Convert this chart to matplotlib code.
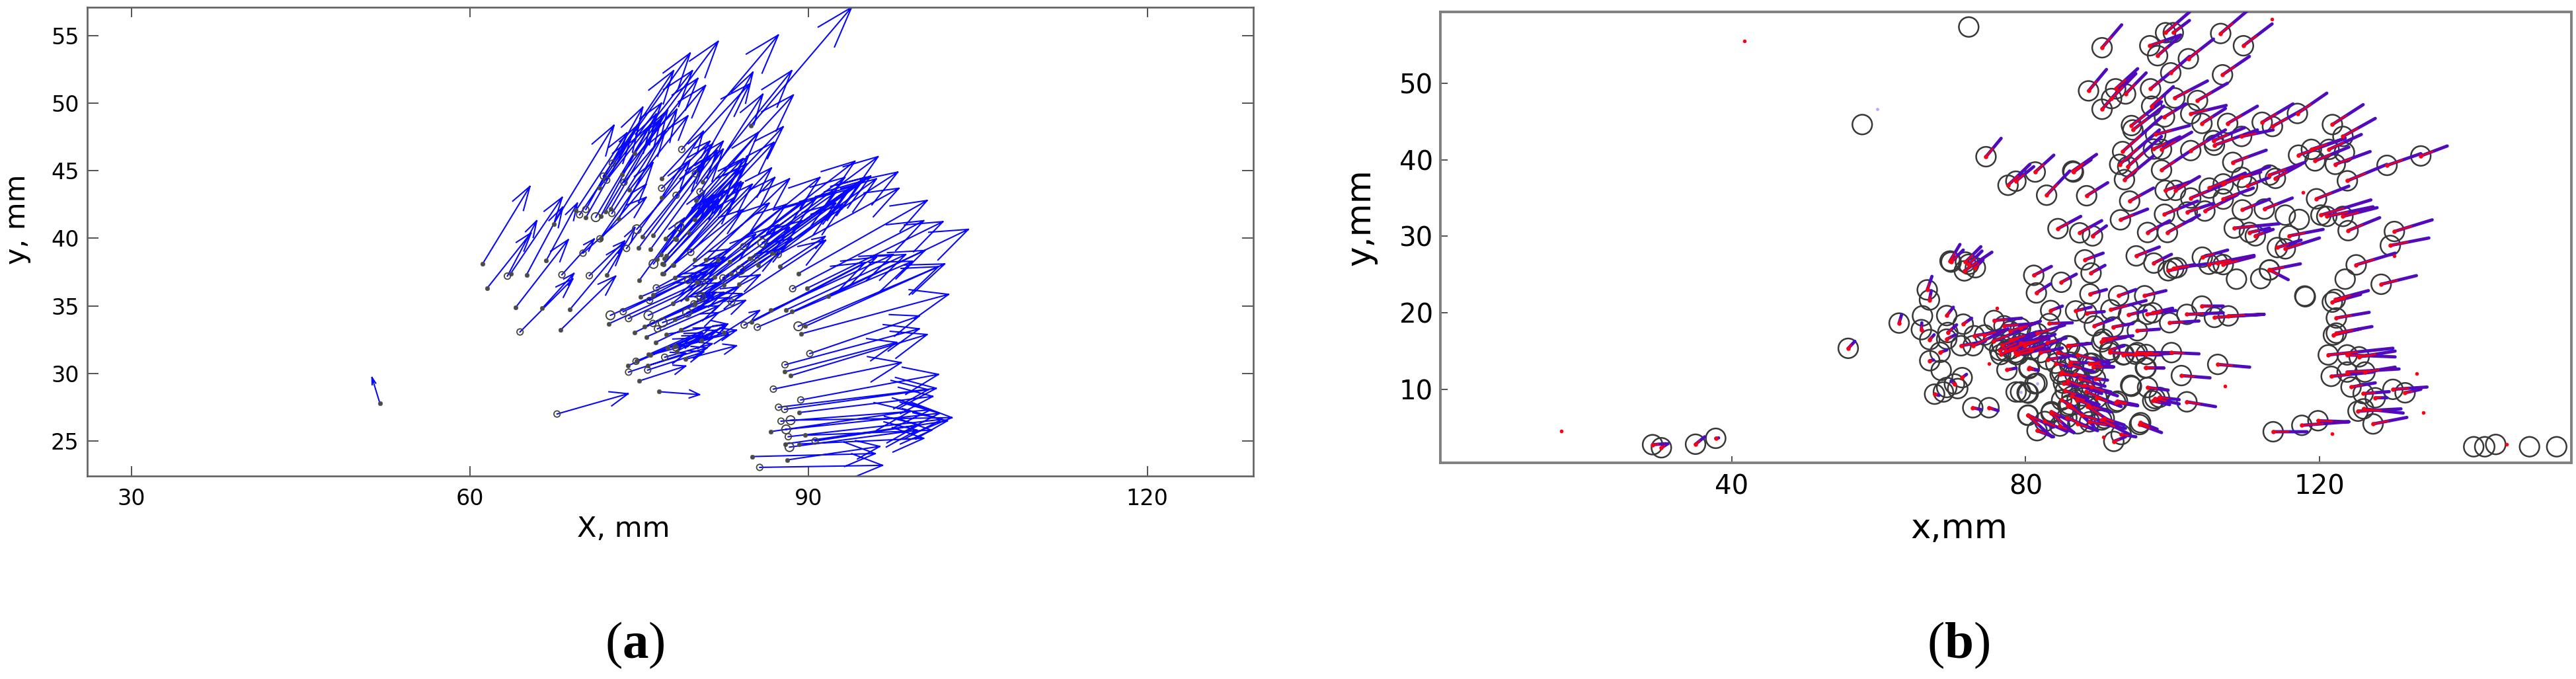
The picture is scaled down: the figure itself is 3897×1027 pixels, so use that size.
import numpy as np
import matplotlib
matplotlib.use("Agg")
import matplotlib.pyplot as plt

# ---------- panel (a): displacement arrows (x0, y0, x1, y1, marker class 0/1/2), mm
arrows_isolated = [
 (52.0,27.8,51.3,29.7,0),(67.7,27.0,74.0,28.5,1),(76.74,28.65,80.33,28.43,0),
 (61.1,38.1,65.3,43.84,0),(61.5,36.3,65.4,40.4,0),(63.3,37.2,65.9,41.3,1),(63.6,37.4,68.16,43.03,0),
 (65.0,37.3,68.2,42.3,0),(66.74,38.35,69.5,42.6,0),(64.05,34.9,68.7,39.9,0),(66.4,34.83,69.2,37.4,0),
 (64.42,33.07,69.1,37.0,1),(68.13,37.3,71.0,39.95,1),(70.56,37.23,73.7,39.8,1),(72.13,37.3,74.6,40.8,0),
 (68.84,34.73,73.7,39.6,0),(68.0,33.2,72.9,37.2,0),(70.0,38.9,75.6,43.03,1),(71.57,39.95,75.6,44.0,0),
 (71.5,39.96,76.2,45.6,1),
]
arrows_upper = [
 (67.4,41.07,72.75,48.36,0),(69.37,42.05,73.9,47.8,0),(69.7,41.74,74.2,47.3,1),(70.25,42.13,75.3,49.7,1),
 (70.25,41.53,75.0,48.5,0),(71.13,41.56,76.0,48.4,2),(71.58,41.64,76.5,49.2,0),(71.97,41.97,76.96,48.9,0),
 (72.46,42.18,77.5,49.5,0),(72.56,41.84,77.3,48.0,1),(73.15,41.43,78.32,49.55,0),(71.45,43.73,76.96,50.0,0),
 (71.8,44.6,78.03,52.4,1),(72.1,44.3,79.7,52.4,1),(72.6,45.55,79.5,53.7,1),(73.44,44.7,80.18,51.83,0),
 (73.63,44.14,80.86,51.3,1),(74.12,43.57,79.3,49.06,0),(74.57,46.29,81.98,54.57,0),(76.96,44.4,84.77,51.42,0),
 (76.97,43.7,81.25,47.18,1),(78.25,43.18,82.43,47.18,1),(78.75,46.57,87.31,55.04,1),(79.96,44.77,85.06,52.29,1),
 (80.37,43.44,85.94,50.66,1),(79.93,41.4,87.74,48.25,0),(78.54,40.88,85.55,47.84,2),(79.38,40.42,86.92,47.1,0),
 (77.35,39.96,84.2,45.9,0),(78.25,39.93,84.6,46.0,0),(84.87,48.33,93.8,57.08,0),(80.6,44.2,88.5,52.4,0),
 (80.0,42.8,88.64,50.6,0),(76.96,43.0,80.67,47.92,0),(74.77,40.67,81.5,47.0,2),(75.28,40.14,81.0,46.0,0),
 (76.2,40.2,81.9,46.5,0),(73.86,39.25,79.5,45.8,1),(74.94,39.3,80.5,45.5,0),(76.0,39.2,82.43,46.6,0),
 (76.25,38.1,80.8,43.5,2),(75.0,36.9,79.0,41.5,0),(76.56,38.46,81.2,43.0,0),(76.9,38.8,81.6,43.2,0),
 (77.2,38.5,82.0,42.9,0),(77.15,38.08,83.0,43.6,0),(77.15,37.37,83.4,43.0,0),(78.0,38.0,84.0,44.2,0),
]
arrows_middle = [
 (77.3,39.95,83.9,45.2,0),(78.13,39.95,84.5,45.5,0),(84.24,39.38,94.1,45.7,1),(85.88,39.66,96.15,46.04,2),
 (87.3,38.8,98.0,43.7,1),(86.73,38.87,97.9,44.9,0),(85.3,38.54,95.5,44.6,1),(84.77,38.5,95.0,44.5,0),
 (83.0,38.26,93.2,44.5,0),(81.97,38.4,91.0,44.5,0),(80.9,38.4,88.3,44.4,0),(79.9,38.4,87.0,44.5,0),
 (79.55,38.96,86.7,45.2,1),(77.95,38.03,85.0,44.0,0),(77.06,38.1,84.2,44.12,0),(77.4,38.7,82.5,43.5,0),
 (87.44,37.94,91.46,40.13,0),(85.52,38.03,96.0,44.4,0),(83.96,37.65,94.6,44.2,2),(82.4,37.07,93.5,43.6,1),
 (83.1,37.4,93.8,43.8,0),(81.68,37.13,92.4,43.4,0),(79.3,36.88,88.0,42.5,1),(78.16,37.07,86.5,42.6,0),
 (77.06,37.4,84.2,42.13,0),(80.58,36.75,90.6,42.9,1),(80.08,36.75,89.8,42.8,0),(82.5,36.56,92.4,42.6,0),
 (83.8,36.6,93.0,42.5,0),(80.37,35.7,89.4,41.3,1),(79.2,35.53,87.3,41.0,0),(77.95,35.2,85.3,40.3,0),
 (79.83,35.15,88.3,40.8,1),(83.17,35.28,91.5,39.85,1),(80.47,35.66,88.5,40.0,2),(79.9,35.2,87.5,39.2,0),
]
arrows_right = [
 (89.1,37.4,100.5,42.8,0),(88.58,36.27,100.2,41.3,1),(89.86,36.3,101.9,41.23,0),(91.74,35.7,104.15,40.66,0),
 (88.54,34.57,100.3,39.1,0),(88.0,34.7,98.6,38.8,0),(86.66,34.67,97.5,38.8,0),(85.45,33.42,99.2,38.3,1),
 (84.95,33.8,96.0,38.6,0),(84.28,33.58,95.0,38.2,1),(82.5,33.0,85.65,34.66,0),
 (89.08,33.49,102.05,38.1,2),(89.7,33.49,101.5,37.9,0),(89.36,32.94,102.4,35.85,0),(90.1,31.47,99.8,34.25,1),
 (87.9,30.64,99.8,33.3,1),(87.87,30.12,97.8,32.3,0),(88.4,29.84,100.5,32.88,0),(86.87,28.84,98.2,30.8,1),
 (89.3,28.04,101.5,29.93,1),(87.33,27.5,101.3,28.9,1),(87.87,27.34,100.6,28.8,1),(89.18,27.11,101.0,28.3,0),
 (87.55,26.47,100.8,27.3,1),(88.4,26.54,102.7,26.73,2),(88.0,25.86,101.6,27.05,2),(86.66,25.7,99.0,27.2,0),
 (88.19,25.32,101.8,26.6,1),(89.68,25.42,100.9,25.8,0),(90.57,25.0,102.3,26.5,1),(89.15,24.78,100.2,25.2,0),
 (87.9,24.78,99.8,26.2,0),(88.3,24.55,99.6,25.8,2),(85.0,23.85,95.9,24.07,0),(88.08,23.6,96.3,24.6,0),
 (85.66,23.05,96.55,23.2,1),
]
arrows_lower = [
 (72.43,34.3,80.3,37.2,2),(73.56,34.57,81.0,37.5,1),(74.04,34.06,81.6,37.0,1),(72.3,33.68,80.5,36.8,0),
 (75.8,34.3,82.0,36.7,2),(75.1,35.66,81.6,38.0,0),(76.5,36.33,83.0,39.2,1),(76.2,35.8,82.6,38.6,0),
 (75.9,35.4,82.3,38.2,1),(74.6,33.04,81.4,35.8,0),(75.6,32.7,82.0,35.0,0),(75.43,33.45,81.8,36.0,0),
 (76.2,33.7,82.5,36.0,1),(76.6,33.3,82.8,35.6,1),(76.44,32.3,82.0,34.5,0),(77.06,33.77,84.1,35.9,2),
 (78.13,34.0,83.8,36.4,0),(77.4,32.9,82.8,33.65,0),(78.66,33.23,84.4,35.4,0),(79.23,34.5,85.7,37.3,2),
 (78.13,32.0,83.6,33.2,0),(79.1,31.05,83.6,32.05,0),(74.0,30.57,79.5,32.6,0),(74.76,30.9,80.3,32.8,0),
 (74.04,30.1,79.1,31.5,1),(75.0,29.45,79.1,30.55,0),(75.73,30.57,81.0,31.9,0),(75.73,30.25,80.7,31.6,1),
 (76.0,31.37,81.45,32.6,0),(77.24,31.2,81.45,32.2,1),(77.5,31.9,82.9,32.9,0),(78.3,31.63,82.8,33.65,0),
 (80.47,32.46,82.8,33.65,0),(75.8,31.4,81.3,33.4,0),(74.7,30.9,80.6,33.0,1),(78.2,31.9,81.9,33.2,1),
]

# ---------- panel (b): circle centre and vector end (x0, y0, x1, y1), mm
circles_top = [
 (90.4,54.64,93.07,57.63),(99.05,56.6,102.3,59.3),(96.9,54.9,101.1,56.3),(97.96,53.6,100.95,56.05),
 (100.1,56.6,102.3,58.2),(106.55,56.5,110.1,59.4),(109.65,54.9,113.55,57.75),(102.15,53.2,105.57,55.77),
 (99.75,51.36,102.3,53.5),(106.8,51.1,110.46,53.5),(88.56,49.0,91.0,51.8),(92.25,49.27,95.25,51.9),
 (93.6,48.6,96.4,51.35),(91.7,48.0,95.0,51.25),(90.4,46.6,93.6,50.1),(97.0,49.27,99.86,51.53),
 (100.3,48.08,104.75,50.3),(103.4,47.74,107.47,50.0),(97.15,47.0,100.1,49.55),(98.9,45.6,101.8,47.3),
 (102.47,46.0,107.3,47.1),(104.0,44.75,107.2,46.7),(94.4,44.47,98.5,47.57),(94.6,43.9,98.8,47.0),
 (107.5,44.75,111.55,47.0),(112.2,44.9,116.4,47.3),(113.6,44.35,118.0,46.7),(117.0,46.05,121.0,48.7),
 (121.76,44.6,125.95,47.2),(123.2,43.05,127.6,45.4),(121.3,41.36,125.7,43.3),(118.9,41.36,123.5,42.8),
 (117.15,40.6,123.5,42.8),(119.4,39.85,124.0,41.65),(122.15,39.4,126.9,41.07),(129.2,39.27,133.8,40.8),
 (133.8,40.5,137.4,41.8),(123.8,37.25,129.2,39.4),(119.6,34.9,124.0,36.55),(109.4,43.05,113.7,43.9),
 (105.7,41.9,111.55,43.9),(105.57,42.5,109.8,44.2),(102.47,41.2,107.2,43.9),(97.7,43.3,102.3,44.47),
 (98.5,41.36,102.6,43.6),(97.4,41.4,101.0,43.0),(93.2,41.07,98.5,45.6),(92.8,39.4,98.2,43.9),
 (93.9,39.1,98.5,43.05),(93.45,37.4,97.4,40.5),(98.5,38.65,102.3,41.07),(108.2,39.66,112.75,41.25),
 (113.2,38.0,118.0,39.66),(114.0,37.57,117.5,39.4),
]
circles_centre = [
 (74.6,40.4,76.66,42.8),(77.6,36.67,80.57,39.4),(78.67,37.2,81.1,39.1),(81.3,38.4,83.83,40.6),
 (86.4,38.53,89.65,40.7),(86.5,38.4,88.9,40.0),(82.85,35.37,86.0,38.53),(88.3,35.3,91.17,37.0),
 (94.16,34.6,97.4,36.3),(92.9,32.15,96.6,33.55),(99.0,36.0,102.3,37.1),(100.4,36.0,103.67,37.8),
 (102.47,35.0,107.2,36.84),(105.0,36.3,109.9,38.26),(106.9,36.84,113.2,39.1),(110.2,36.57,113.2,37.7),
 (109.4,37.7,112.0,38.4),(106.9,34.86,111.0,36.3),(98.9,32.88,103.4,34.6),(102.0,33.17,105.57,34.3),
 (104.4,33.3,108.8,35.4),(109.5,33.45,113.2,34.86),(112.5,33.56,116.3,35.0),(84.4,31.0,87.5,32.6),
 (87.36,30.45,90.35,32.04),(89.1,30.05,91.0,31.36),(96.6,30.5,99.6,32.04),(99.3,30.5,103.67,32.77),
 (108.4,31.07,114.5,31.64),(110.46,30.5,113.2,31.07),(111.27,30.06,113.7,30.9),(115.9,30.06,120.5,30.9),
 (115.35,28.36,120.0,29.78),(114.27,28.53,117.5,29.5),(120.2,32.77,127.0,34.75),(121.0,32.6,127.3,33.85),
 (123.2,32.6,127.85,33.74),(123.9,30.74,128.2,32.43),(130.2,30.63,135.35,32.15),(129.65,28.8,134.9,29.78),
 (125.0,26.27,130.3,27.8),(128.4,23.73,133.2,24.86),
]
circles_right_column = [
 (122.15,21.75,126.66,22.9),(121.75,21.4,125.6,22.4),(122.3,19.33,126.77,20.06),(122.3,17.35,127.15,18.2),
 (121.9,17.1,125.6,17.9),(121.2,14.5,130.0,15.37),(123.77,14.5,130.3,14.24),(125.4,14.25,130.3,15.0),
 (121.6,11.7,127.3,12.26),(123.77,12.26,130.84,12.66),(126.2,12.26,130.3,12.9),(124.3,10.3,127.6,10.85),
 (125.95,9.45,129.5,9.7),(127.6,8.9,129.2,8.9),(130.0,10.0,134.65,10.3),(131.66,9.55,133.8,10.0),
 (125.25,7.15,131.1,7.45),(126.0,7.45,131.4,6.9),(127.3,5.48,131.9,6.33),(113.7,4.46,118.3,4.46),
 (117.6,5.3,124.0,5.76),(119.8,5.9,124.0,5.76),
]
circles_mid_band = [
 (81.1,24.9,83.5,26.06),(81.46,22.6,83.35,23.76),(84.85,23.99,86.9,25.05),(88.06,26.92,90.55,27.8),
 (88.9,25.2,90.8,26.2),(88.75,22.46,91.0,23.04),(83.4,20.3,85.0,20.88),(86.8,20.25,88.9,20.74),
 (88.3,19.96,90.7,20.16),(89.35,18.29,91.9,19.16),(92.65,22.23,95.0,23.04),(96.2,22.23,99.1,22.9),
 (91.6,20.4,96.4,21.6),(94.0,19.73,96.4,20.3),(91.9,18.15,94.6,18.6),(95.2,17.66,98.2,17.86),
 (96.55,19.8,100.45,20.3),(97.3,20.0,100.0,20.6),(99.6,18.7,103.6,18.93),(101.95,19.8,106.9,20.0),
 (104.0,20.88,106.9,20.88),(105.7,19.4,112.45,19.8),(107.6,19.6,112.45,19.8),(95.05,27.44,98.2,28.6),
 (97.45,26.5,99.85,27.64),(100.15,25.8,104.65,26.4),(99.4,25.5,102.0,26.0),(100.6,25.9,103.0,26.3),
 (104.05,27.27,107.5,28.2),(104.95,26.35,111.1,27.5),(106.9,26.3,111.1,27.35),(106.15,26.5,110.0,27.2),
 (113.2,25.6,117.4,26.4),(113.2,25.6,115.75,24.33),(99.85,14.8,103.6,14.64),(96.4,14.55,100.0,14.7),
 (94.9,14.6,98.2,14.55),(93.4,14.55,96.7,14.55),(91.45,15.13,93.4,15.7),(90.55,16.57,94.6,17.0),
 (106.15,13.26,110.5,12.9),(101.2,11.8,105.1,11.5),(96.4,12.83,98.8,12.77),(96.6,10.24,99.4,9.9),
 (97.6,8.8,100.9,8.1),(98.2,8.95,100.9,8.65),(101.95,8.37,105.85,7.74),(97.3,8.5,99.6,8.0),
 (92.5,8.46,95.2,7.94),(88.0,10.53,91.6,9.66),(88.6,7.8,91.6,7.05),(95.65,5.64,97.9,4.8),
]
circles_bottom = [
 (80.35,6.64,83.8,5.06),(83.5,7.08,85.9,5.93),(85.75,7.8,87.7,6.8),(90.7,6.2,93.4,5.35),(80.5,12.83,81.7,12.48),
 (85.75,15.7,88.9,16.0),(84.4,14.8,86.8,14.26),(84.1,13.4,86.2,12.83),(84.7,11.97,87.55,11.74),
 (85.15,10.8,87.1,10.38),(86.05,13.55,88.6,13.46),(89.05,13.4,91.3,13.7),(89.2,12.9,91.9,12.9),
 (89.5,11.4,91.15,11.2),(83.2,18.6,86.35,18.7),(79.3,18.0,81.25,18.6),(79.3,16.0,83.2,16.6),(79.0,14.55,83.2,15.4),
 (80.3,6.6,83.55,3.8),(81.55,4.6,83.8,3.8),(83.45,6.9,86.55,4.35),(84.65,5.2,86.55,4.35),(86.0,8.0,89.27,5.2),
 (87.1,5.5,89.8,4.6),(88.45,7.75,92.5,5.2),(88.7,5.76,93.6,4.9),(90.35,6.0,94.15,4.1),(92.0,3.2,93.6,3.8),
 (93.0,4.1,95.0,3.8),(95.5,5.4,98.5,4.35),(92.25,8.3,95.25,7.85),(88.2,9.7,93.0,7.75),(89.0,10.3,92.5,9.15),
 (85.7,11.1,90.35,9.45),(84.9,12.26,88.7,11.1),(86.0,15.65,88.45,16.0),(88.7,13.4,92.0,12.94),(87.1,14.5,91.4,13.4),
 (90.35,16.2,93.6,16.8),(91.45,14.8,98.0,14.5),(93.3,14.5,98.5,14.5),(95.2,14.8,99.86,14.8),(96.3,12.8,98.8,12.8),
]
circles_dense = [
 (75.6,16.3,80.1,18.0),(76.8,15.8,81.5,17.5),(77.3,15.0,82.3,16.9),(78.0,15.3,83.0,17.0),(78.6,14.8,83.4,16.1),
 (79.9,15.7,84.0,17.2),(80.8,15.2,84.4,16.3),(77.9,17.6,82.0,18.9),(81.6,17.3,85.3,18.4),(82.0,14.8,85.0,15.4),
 (83.0,13.9,85.9,14.3),(82.9,16.1,85.5,16.7),(74.4,17.1,77.6,17.9),(85.4,9.8,88.5,8.8),(86.3,9.1,90.0,8.0),
 (87.0,8.6,90.6,7.4),(87.7,6.6,92.0,5.4),(85.6,6.3,89.0,4.9),(82.6,5.8,85.6,4.5),(86.7,12.0,90.0,11.3),
 (87.4,11.4,90.8,10.4),(86.0,13.2,89.3,12.3),(89.7,8.9,92.7,7.9),(84.9,8.6,86.8,7.6),
]
circles_left = [
 (29.2,2.77,31.0,2.9),(30.4,2.37,31.3,2.9),(35.05,2.83,36.3,3.8),(37.8,3.6,38.2,3.65),
 (55.84,15.36,56.74,16.28),(62.77,18.66,63.1,19.73),(66.6,23.0,67.24,24.76),(66.9,21.68,67.15,22.9),
 (65.8,17.8,65.86,18.7),(66.94,16.5,67.54,17.13),(69.25,19.64,70.15,20.73),(71.5,18.52,72.64,19.3),
 (69.4,17.43,70.6,18.43),(69.25,16.56,70.45,17.13),(71.2,15.7,74.5,16.27),(72.85,15.7,77.2,17.7),
 (73.0,17.0,75.4,17.4),(68.35,14.84,69.25,15.13),(66.94,13.74,67.45,13.83),(71.35,11.53,71.95,11.96),
 (70.3,10.7,69.85,11.1),(67.6,9.37,68.2,9.2),(72.8,7.6,73.9,7.36),(75.0,7.6,76.25,7.22),
 (77.45,12.54,78.7,12.77),(80.44,12.7,81.7,12.48),(75.7,19.0,79.45,19.3),(77.05,18.3,81.25,18.6),
 (76.45,15.1,81.4,17.1),(76.6,14.55,81.7,16.27),(78.7,14.55,82.6,15.4),(78.0,16.5,82.0,17.6),
 (69.7,26.77,71.05,28.93),(69.85,26.63,71.5,28.2),(71.8,26.63,73.9,28.64),(71.65,25.48,75.4,27.92),
 (73.15,25.9,74.2,26.92),(72.25,26.34,74.05,28.07),
]
plain_circle_x = [72.25,57.75,123.4,115.35,117.25,123.5,118.07,94.3,94.4,108.7,112.0,118.0,81.55,79.3,80.35,
                  65.95,68.5,69.25,70.75,68.8,78.7,80.2,81.25,141.0,142.5,144.0,148.6,152.3]
plain_circle_y = [57.35,44.6,40.96,32.77,32.2,24.4,22.1,10.53,10.4,24.4,24.47,22.2,10.8,9.66,9.5,
                  19.6,12.48,10.24,10.1,9.66,9.66,9.57,10.73,2.5,2.5,2.8,2.5,2.5]
red_dot_x = [41.7,16.8,113.55,117.8,130.2,76.1,75.0,107.1,133.2,134.1,121.7,90.6,145.5]
red_dot_y = [55.54,4.58,58.4,35.7,27.4,20.6,13.4,10.45,12.1,7.0,4.2,3.8,2.8]
blue_dot_x = [59.76,81.55,79.3]
blue_dot_y = [46.6,10.8,9.66]

xticks_a, yticks_a = [30,60,90,120], [25,30,35,40,45,50,55]
xticks_b, yticks_b = [40,80,120], [10,20,30,40,50]

W, H = 3897, 1027
DPI = 100
plt.rcParams.update({'font.family': 'DejaVu Sans', 'mathtext.fontset': 'custom',
                     'mathtext.rm': 'Liberation Serif', 'mathtext.bf': 'Liberation Serif:bold'})
fig = plt.figure(figsize=(W/DPI, H/DPI), dpi=DPI, facecolor='white')

def make_axes(l, r, t, b):
    return fig.add_axes([l/W, 1-b/H, (r-l)/W, (b-t)/H])

# ---- panel (a)
ax = make_axes(132, 1896, 11, 720)
ax.set_xlim(26.07, 129.4); ax.set_ylim(22.41, 57.09)
rows = arrows_isolated + arrows_upper + arrows_middle + arrows_right + arrows_lower
A = np.array(rows, float)
x0, y0, x1, y1, kind = A.T
u, v = x1-x0, y1-y0
HEAD, SPREAD = 0.25, 0.33          # barb size relative to the arrow, as read from the long arrow
xs, ys = [], []
for a, b, c, d, p, q in zip(x0, y0, x1, y1, u, v):
    xs += [a, c, np.nan, c-HEAD*(p+SPREAD*q), c, c-HEAD*(p-SPREAD*q), np.nan]
    ys += [b, d, np.nan, d-HEAD*(q-SPREAD*p), d, d-HEAD*(q+SPREAD*p), np.nan]
ax.plot(xs, ys, color='#0808ff', lw=1.5, solid_joinstyle='miter', zorder=2)
ax.scatter(x0[kind==0], y0[kind==0], s=22, facecolor='#4a4a4a', edgecolor='#555555', lw=0.5, zorder=3)
ax.scatter(x0[kind==1], y0[kind==1], s=46, facecolor='none', edgecolor='#444444', lw=1.3, zorder=3)
ax.scatter(x0[kind==2], y0[kind==2], s=90, facecolor='none', edgecolor='#444444', lw=1.4, zorder=3)
ax.set_xticks(xticks_a); ax.set_yticks(yticks_a)
ax.tick_params(axis='x', direction='in', top=True, bottom=True, length=11, width=1.3, color='#444444',
               labelsize=24, pad=13)
ax.tick_params(axis='y', direction='in', left=True, right=True, length=12, width=1.3, color='#444444',
               labelsize=24, pad=9)
for s in ax.spines.values():
    s.set_color('#606060'); s.set_linewidth(1.9)
ax.set_xlabel('X, mm', fontsize=31, va='center')
ax.xaxis.set_label_coords(0.46, -0.113)
ax.set_ylabel('y, mm', fontsize=31, va='center')
ax.yaxis.set_label_coords(-0.06, 0.547)

# ---- panel (b)
bx = make_axes(2179, 3890, 18, 700)
bx.set_xlim(0.31, 154.3); bx.set_ylim(0.4, 59.32)
C = np.array(circles_top + circles_centre + circles_right_column + circles_mid_band + circles_bottom
             + circles_dense + circles_left, float)
cx0, cy0, cx1, cy1 = C.T
all_cx = np.r_[cx0, plain_circle_x]; all_cy = np.r_[cy0, plain_circle_y]
bx.scatter(all_cx, all_cy, s=460, facecolor='none', edgecolor='#383838', lw=1.8, zorder=2)
def segs(a, b, c, d, frac=1.0):
    X, Y = [], []
    for p, q, r, s_ in zip(a, b, c, d):
        X += [p, p+frac*(r-p), np.nan]; Y += [q, q+frac*(s_-q), np.nan]
    return X, Y
X, Y = segs(cx0, cy0, cx1, cy1)
bx.plot(X, Y, color='#2a18f0', lw=3.5, solid_capstyle='round', zorder=3)
bx.plot(X, Y, color='#70009a', lw=1.7, solid_capstyle='round', zorder=4)
X, Y = segs(cx0, cy0, cx1, cy1, 0.45)
bx.plot(X, Y, color='#f00010', lw=2.1, solid_capstyle='round', zorder=5)
bx.scatter(cx0, cy0, s=22, color='#ff0010', lw=0, zorder=6)
bx.scatter(red_dot_x, red_dot_y, s=16, color='#ff0010', lw=0, zorder=6)
bx.scatter(blue_dot_x, blue_dot_y, s=12, color='#b0b0ff', lw=0, zorder=6)
bx.set_xticks(xticks_b); bx.set_yticks(yticks_b)
bx.tick_params(axis='x', direction='in', length=7, width=1.1, color='#222222', labelsize=29, pad=12)
bx.tick_params(axis='y', direction='in', length=8, width=1.1, color='#222222', labelsize=29, pad=8)
for s in bx.spines.values():
    s.set_color('#808080'); s.set_linewidth(2.8)
bx.set_xlabel('x,mm', fontsize=37, va='center')
bx.xaxis.set_label_coords((2964-2179)/1711, -(800-700)/682)
bx.set_ylabel('y,mm', fontsize=37, va='center')
bx.yaxis.set_label_coords((2058-2179)/1711, (700-329)/682)

for cx_, label in ((960, 'a'), (2963, 'b')):
    fig.text(cx_/W, 1-976/H, r'($\mathbf{%s}$)' % label, fontsize=57, family='Liberation Serif',
             ha='center', va='center', color='black')

fig.savefig('out.png', dpi=DPI, facecolor='white')
